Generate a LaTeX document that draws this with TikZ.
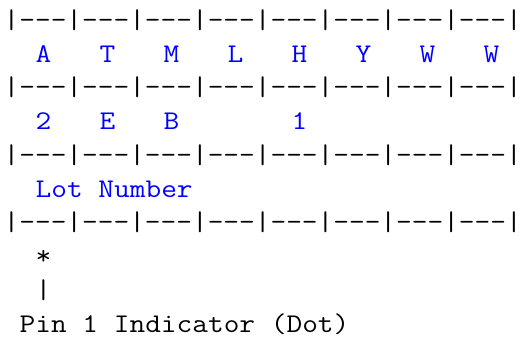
\documentclass[tikz,border=0pt]{standalone}
\usepackage{fontspec}
\setmonofont[FakeStretch=1.129]{Latin Modern Mono}
\definecolor{txtblue}{RGB}{0,0,255}
\tikzset{
  cell/.style={anchor=base west, inner sep=0pt, outer sep=0pt,
    font=\ttfamily\fontsize{27}{33.75}\selectfont},
  sepline/.style={cell, text=black},
  codechar/.style={cell, text=txtblue},
  notetext/.style={cell, text=black}
}
\newcommand\colx[1]{\fpeval{3.7+16*#1}}
\newcommand\rowy[1]{\fpeval{28.3+33.75*#1}}
\begin{document}
\begin{tikzpicture}[x=1pt,y=-1pt]
\useasboundingbox (0,0) rectangle (527,339);
% separator rows
\node[sepline] (s0) at (\colx{0},\rowy{0}) {|---|---|---|---|---|---|---|---|};
\node[sepline] (s1) at (\colx{0},\rowy{2}) {|---|---|---|---|---|---|---|---|};
\node[sepline] (s2) at (\colx{0},\rowy{4}) {|---|---|---|---|---|---|---|---|};
\node[sepline] (s3) at (\colx{0},\rowy{6}) {|---|---|---|---|---|---|---|---|};
% row 1
\node[codechar] (r1a) at (\colx{2},\rowy{1}) {A};
\node[codechar] (r1b) at (\colx{6},\rowy{1}) {T};
\node[codechar] (r1c) at (\colx{10},\rowy{1}) {M};
\node[codechar] (r1d) at (\colx{14},\rowy{1}) {L};
\node[codechar] (r1e) at (\colx{18},\rowy{1}) {H};
\node[codechar] (r1f) at (\colx{22},\rowy{1}) {Y};
\node[codechar] (r1g) at (\colx{26},\rowy{1}) {W};
\node[codechar] (r1h) at (\colx{30},\rowy{1}) {W};
% row 2
\node[codechar] (r2a) at (\colx{2},\rowy{3}) {2};
\node[codechar] (r2b) at (\colx{6},\rowy{3}) {E};
\node[codechar] (r2c) at (\colx{10},\rowy{3}) {B};
\node[codechar] (r2d) at (\colx{18},\rowy{3}) {1};
% row 3
\node[codechar] (lot) at (\colx{2},\rowy{5}) {Lot Number};
% pin indicator
\node[notetext] (dot) at (\colx{2},\rowy{7}) {*};
\node[notetext] (bar) at (\colx{2},\rowy{8}) {|};
\node[notetext] (pin) at (\colx{1},\rowy{9}) {Pin 1 Indicator (Dot)};
\end{tikzpicture}
\end{document}
